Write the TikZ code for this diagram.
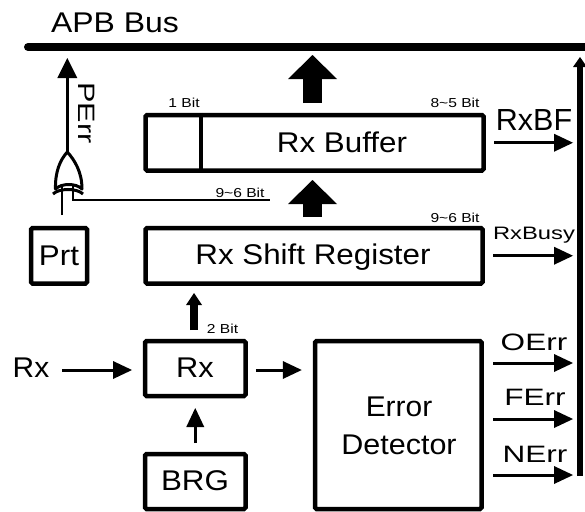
\documentclass[tikz,border=0pt]{standalone}
\usepackage{fontspec}
\setmainfont{Liberation Sans}
\usepackage{graphicx}
\usetikzlibrary{arrows.meta}
\newcommand{\sx}[2]{\scalebox{#1}[1]{#2}}
\begin{document}
\begin{tikzpicture}[x=1pt,y=-1pt,
  box/.style={draw, line width=4.5pt, rounded corners=1.5pt, inner sep=0pt},
  maintxt/.style={font=\fontsize{28.5}{34}\selectfont, inner sep=0pt, anchor=base},
  sidetxt/.style={font=\fontsize{23.7}{28}\selectfont, inner sep=0pt, anchor=base},
  smalltxt/.style={font=\fontsize{13}{15}\selectfont, inner sep=0pt, anchor=base},
  arr/.style={line width=3pt, -{Triangle[length=19pt,width=18pt,line width=0pt]}},
  fat/.style={line width=19pt, -{Triangle[length=24pt,width=49pt,line width=0pt]}},
  wire/.style={line width=2.2pt},
]
\useasboundingbox (0,0) rectangle (585,511);

% boxes
\node[box, minimum width=338pt, minimum height=55.5pt] (buf) at (314.5,142.75) {};
\node[box, minimum width=337pt, minimum height=55.5pt] (sr) at (314,255.75) {};
\node[box, minimum width=56pt, minimum height=55.5pt] (prt) at (59,255.75) {};
\node[box, minimum width=100.5pt, minimum height=55pt] (rx) at (195.25,368.5) {};
\node[box, minimum width=100.5pt, minimum height=55pt] (brg) at (195.25,481.5) {};
\node[box, minimum width=166.5pt, minimum height=168pt] (ed) at (398.25,425) {};
\draw[line width=4.5pt] ([xshift=-113.5pt]buf.north) -- ([xshift=-113.5pt]buf.south);

% texts
\node[maintxt] (apb) at (115,33) {\sx{1.12}{APB Bus}};
\node[maintxt] (buft) at (342,152) {\sx{1.1}{Rx Buffer}};
\node[maintxt] (srt) at (313,264) {\sx{1.1}{Rx Shift Register}};
\node[maintxt] (prtt) at (59,265) {\sx{1.1}{Prt}};
\node[maintxt] (rxt) at (195,377) {\sx{1.08}{Rx}};
\node[maintxt] (brgt) at (195,490) {\sx{1.1}{BRG}};
\node[maintxt] (errt) at (399,416) {\sx{1.05}{Error}};
\node[maintxt] (dett) at (399,454) {\sx{1.07}{Detector}};
\node[maintxt] (rxin) at (31,377) {\sx{1.05}{Rx}};
\node[font=\fontsize{30.5}{36}\selectfont, inner sep=0pt, anchor=base] (rxbf) at (534,130) {RxBF};
\node[font=\fontsize{18}{22}\selectfont, inner sep=0pt, anchor=base] (rxbusy) at (534,239) {\sx{1.32}{RxBusy}};
\node[sidetxt] (oerr) at (534,350) {\sx{1.33}{OErr}};
\node[sidetxt] (ferr) at (535,405) {\sx{1.33}{FErr}};
\node[sidetxt] (nerr) at (535,462) {\sx{1.33}{NErr}};
\node[sidetxt, rotate=-90] (perr) at (78,113) {\sx{1.29}{PErr}};
\node[smalltxt] (b1) at (184,107) {\sx{1.2}{1 Bit}};
\node[smalltxt] (b85) at (455,107) {\sx{1.2}{8\textasciitilde 5 Bit}};
\node[smalltxt] (b96a) at (240,197) {\sx{1.2}{9\textasciitilde 6 Bit}};
\node[smalltxt] (b96b) at (455,222) {\sx{1.2}{9\textasciitilde 6 Bit}};
\node[smalltxt] (b2) at (222.5,333) {\sx{1.2}{2 Bit}};

% buses
\coordinate (busL) at (28,47);
\coordinate (busR) at (592,47);
\draw[line width=8pt, line cap=round] (busL) -- (busR);
\coordinate (vbT) at (580,57);
\coordinate (vbB) at (580,476);
\draw[line width=6pt, -{Triangle[length=10pt,width=14pt,line width=0pt]}] (vbB) -- (vbT);

% fat arrows
\coordinate (fa1) at ([xshift=-2pt,yshift=9.75pt]buf.north);
\draw[fat, shorten >=8pt] (fa1) -- (fa1 |- busL);
\coordinate (fa2) at ([xshift=-1.5pt,yshift=8.75pt]sr.north);
\draw[fat, shorten >=7.25pt] (fa2) -- (fa2 |- buf.south);
\coordinate (tb) at ([xshift=-1.25pt,yshift=8.75pt]rx.north);
\draw[line width=7.5pt, -{Triangle[length=12pt,width=16pt,line width=0pt]}, shorten >=7.25pt] (tb) -- (tb |- sr.south);

% right outputs
\draw[arr, shorten <=8.25pt, shorten >=7pt] (buf.east) -- (buf.east -| vbB);
\draw[arr, shorten <=8.25pt, shorten >=7pt] (sr.east) -- (sr.east -| vbB);
\coordinate (eo) at ([yshift=62pt]ed.east);
\coordinate (ef) at ([yshift=6pt]ed.east);
\coordinate (en) at ([yshift=-50pt]ed.east);
\draw[arr, shorten <=9.25pt, shorten >=7pt] (eo) -- (eo -| vbB);
\draw[arr, shorten <=9.25pt, shorten >=7pt] (ef) -- (ef -| vbB);
\draw[arr, shorten <=9.25pt, shorten >=7pt] (en) -- (en -| vbB);

% Rx paths
\coordinate (rxw) at ([yshift=-1.5pt]rx.west);
\coordinate (rxe) at ([yshift=-1.5pt]rx.east);
\draw[arr, shorten >=10.75pt] (rxin.east |- rxw) ++(13,0) -- (rxw);
\draw[arr, shorten <=8pt, shorten >=11pt] (rxe) -- (rxe -| ed.west);
\draw[arr, shorten <=8.75pt, shorten >=9.75pt] (brg.north) -- (rx.south);

% XOR gate
\draw[line width=3pt, line join=round] (55.5,189) .. controls (55,172) and (60,160) .. (67.3,152)
  .. controls (74.6,160) and (82,172) .. (82,189)
  .. controls (76,183) and (61.5,183) .. (55.5,189) -- cycle;
\draw[line width=3pt] (53,194) .. controls (59,188) and (77,188) .. (83,194);
\coordinate (gout) at (67.3,152);
\draw[line width=2.6pt, -{Triangle[length=20pt,width=20pt,line width=0pt]}, shorten >=11pt] (gout) -- (gout |- busL);
\coordinate (pin) at ([xshift=2.7pt,yshift=10.75pt]prt.north);
\draw[wire] (pin) -- ++(0,-29);
\coordinate (b96) at (270,200);
\draw[wire] (73.3,186) |- (b96);
\end{tikzpicture}
\end{document}
